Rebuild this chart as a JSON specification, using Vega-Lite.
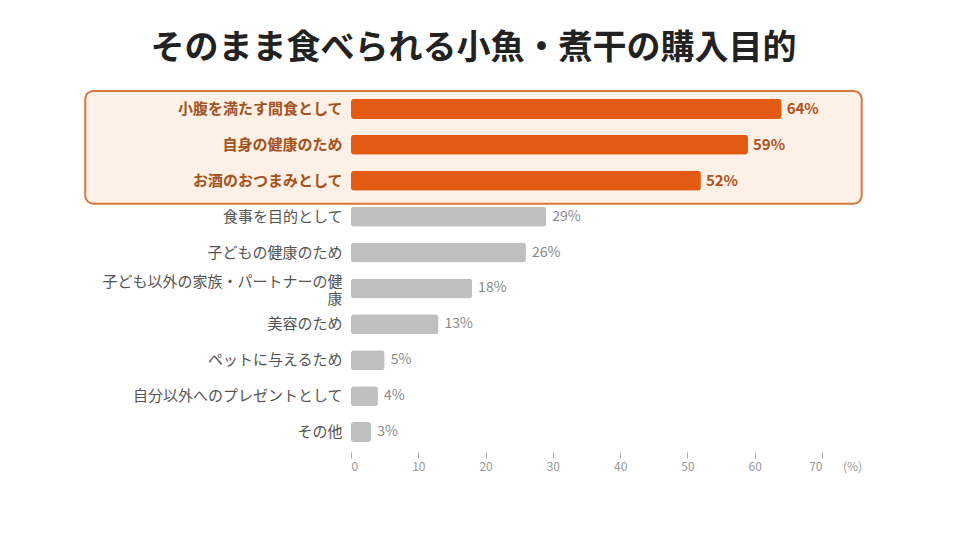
{
  "$schema": "https://vega.github.io/schema/vega-lite/v6.json",
  "autosize": {"type": "none"},
  "width": 471,
  "height": 359,
  "padding": {"left": 351, "top": 91, "right": 138, "bottom": 90},
  "background": "white",
  "title": {
    "text": "そのまま食べられる小魚・煮干の購入目的",
    "font": "Noto Sans CJK JP",
    "fontSize": 34,
    "fontWeight": "bold",
    "color": "#222222",
    "anchor": "middle",
    "frame": "bounds",
    "offset": 24
  },
  "config": {
    "view": {"stroke": null},
    "font": "Noto Sans CJK JP"
  },
  "data": {
    "values": [
      {"item": "小腹を満たす間食として", "pct": 64, "highlight": "yes"},
      {"item": "自身の健康のため", "pct": 59, "highlight": "yes"},
      {"item": "お酒のおつまみとして", "pct": 52, "highlight": "yes"},
      {"item": "食事を目的として", "pct": 29, "highlight": "no"},
      {"item": "子どもの健康のため", "pct": 26, "highlight": "no"},
      {"item": "子ども以外の家族・パートナーの健康", "pct": 18, "highlight": "no"},
      {"item": "美容のため", "pct": 13, "highlight": "no"},
      {"item": "ペットに与えるため", "pct": 5, "highlight": "no"},
      {"item": "自分以外へのプレゼントとして", "pct": 4, "highlight": "no"},
      {"item": "その他", "pct": 3, "highlight": "no"}
    ]
  },
  "transform": [{"calculate": "datum.pct + '%'", "as": "label"}],
  "encoding": {
    "y": {
      "field": "item",
      "type": "nominal",
      "scale": {
        "domain": [
          "小腹を満たす間食として",
          "自身の健康のため",
          "お酒のおつまみとして",
          "食事を目的として",
          "子どもの健康のため",
          "子ども以外の家族・パートナーの健康",
          "美容のため",
          "ペットに与えるため",
          "自分以外へのプレゼントとして",
          "その他"
        ],
        "paddingInner": 0.443,
        "paddingOuter": 0.2215
      },
      "axis": {
        "title": null,
        "domain": false,
        "ticks": false,
        "labelPadding": 9,
        "labelFontSize": 15,
        "labelLimit": 400,
        "labelLineHeight": 17,
        "labelExpr": "datum.value == '子ども以外の家族・パートナーの健康' ? ['子ども以外の家族・パートナーの健', '康'] : datum.value",
        "labelOffset": {
          "condition": {
            "test": "datum.value == '子ども以外の家族・パートナーの健康'",
            "value": -6
          },
          "value": 0
        },
        "labelColor": {
          "condition": {
            "test": "indexof(['小腹を満たす間食として','自身の健康のため','お酒のおつまみとして'], datum.value) >= 0",
            "value": "#a4521d"
          },
          "value": "#555555"
        },
        "labelFontWeight": {
          "condition": {
            "test": "indexof(['小腹を満たす間食として','自身の健康のため','お酒のおつまみとして'], datum.value) >= 0",
            "value": "bold"
          },
          "value": "normal"
        }
      }
    }
  },
  "layer": [
    {
      "data": {"values": [{"box": "highlight"}]},
      "mark": {
        "type": "rect",
        "fill": "#fdf1e7",
        "stroke": "#d9783b",
        "strokeWidth": 2,
        "cornerRadius": 8,
        "yOffset": -8,
        "y2Offset": 13
      },
      "encoding": {
        "x": {"datum": -39.5, "type": "quantitative"},
        "x2": {"datum": 75.9},
        "y": {"datum": "小腹を満たす間食として", "type": "nominal", "bandPosition": 0},
        "y2": {"datum": "お酒のおつまみとして", "bandPosition": 1}
      }
    },
    {
      "mark": {"type": "bar", "cornerRadius": 3},
      "encoding": {
        "x": {
          "field": "pct",
          "type": "quantitative",
          "scale": {"domain": [0, 70], "nice": false, "zero": true},
          "axis": {
            "title": "(%)",
            "values": [0, 10, 20, 30, 40, 50, 60, 70],
            "grid": false,
            "domain": false,
            "tickSize": 6,
            "tickColor": "#aaaaaa",
            "offset": 2,
            "labelFontSize": 12,
            "labelColor": "#999999",
            "labelPadding": 3,
            "titleFontSize": 12,
            "titleFontWeight": "normal",
            "titleColor": "#999999",
            "titleX": 501,
            "titleY": 9,
            "titleAlign": "center"
          }
        },
        "color": {
          "field": "highlight",
          "type": "nominal",
          "scale": {"domain": ["yes", "no"], "range": ["#e35a12", "#bfbfbf"]},
          "legend": null
        }
      }
    },
    {
      "transform": [{"filter": "datum.highlight == 'yes'"}],
      "mark": {
        "type": "text",
        "align": "left",
        "baseline": "middle",
        "dx": 5,
        "fontSize": 15,
        "fontWeight": "bold",
        "color": "#b0521b"
      },
      "encoding": {
        "x": {"field": "pct", "type": "quantitative"},
        "text": {"field": "label"}
      }
    },
    {
      "transform": [{"filter": "datum.highlight == 'no'"}],
      "mark": {
        "type": "text",
        "align": "left",
        "baseline": "middle",
        "dx": 6,
        "fontSize": 14,
        "color": "#888888"
      },
      "encoding": {
        "x": {"field": "pct", "type": "quantitative"},
        "text": {"field": "label"}
      }
    }
  ]
}
